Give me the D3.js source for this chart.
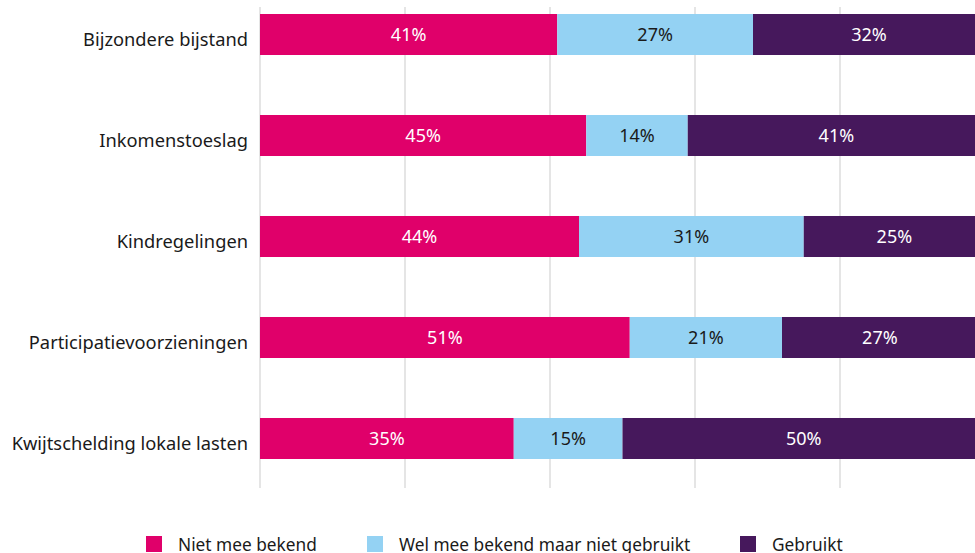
<!DOCTYPE html>
<html>
<head>
<meta charset="utf-8">
<script src="https://cdn.jsdelivr.net/npm/d3@7"></script>
<style>
  body { margin: 0; background: #fff; }
  svg { display: block; font-family: "Noto Sans", sans-serif; }
</style>
</head>
<body>
<div class="canvas"></div>
<script>
const categories = ['Bijzondere bijstand', 'Inkomenstoeslag', 'Kindregelingen', 'Participatievoorzieningen', 'Kwijtschelding lokale lasten'];
const seriesNames = ['Niet mee bekend', 'Wel mee bekend maar niet gebruikt', 'Gebruikt'];
const nietBekend = [41, 45, 44, 51, 35];
const welBekend = [27, 14, 31, 21, 15];
const gebruikt = [32, 41, 25, 27, 50];
const gridTicks = [0, 20, 40, 60, 80, 100];

const colors = ['#e0006a', '#94d2f3', '#46185c'];
const textColors = ['#fff', '#1a1a1a', '#fff'];

const dims = { width: 975, height: 553 };
const margin = { left: 260, top: 7, bottom: 65 };

const rows = categories.map((c, i) => ({
  name: c,
  [seriesNames[0]]: nietBekend[i],
  [seriesNames[1]]: welBekend[i],
  [seriesNames[2]]: gebruikt[i]
}));

const stacked = d3.stack().keys(seriesNames)(rows);

const svg = d3.select('.canvas')
  .append('svg')
  .attr('width', dims.width)
  .attr('height', dims.height);

// 100% lies just past the right edge, like the original
const x = d3.scaleLinear()
  .domain([0, 100])
  .range([margin.left, margin.left + 725]);

const y = d3.scaleBand()
  .domain(categories)
  .range([14, 459])
  .paddingInner(0.594)
  .paddingOuter(0);

// gridlines
svg.append('g')
  .selectAll('line')
  .data(gridTicks)
  .enter()
  .append('line')
    .attr('x1', d => x(d))
    .attr('x2', d => x(d))
    .attr('y1', margin.top)
    .attr('y2', dims.height - margin.bottom)
    .attr('stroke', '#dcdcdc')
    .attr('stroke-width', 1.5);

// bars
const layers = svg.append('g')
  .selectAll('g')
  .data(stacked)
  .enter()
  .append('g')
    .attr('fill', (d, i) => colors[i]);

layers.selectAll('rect')
  .data(d => d)
  .enter()
  .append('rect')
    .attr('x', d => x(d[0]))
    .attr('y', d => y(d.data.name))
    .attr('width', d => x(d[1]) - x(d[0]))
    .attr('height', y.bandwidth());

// value labels
stacked.forEach((layer, i) => {
  svg.append('g')
    .selectAll('text')
    .data(layer)
    .enter()
    .append('text')
      .attr('x', d => (x(d[0]) + x(d[1])) / 2)
      .attr('y', d => y(d.data.name) + y.bandwidth() / 2)
      .attr('dy', '0.36em')
      .attr('text-anchor', 'middle')
      .attr('font-size', 18)
      .attr('fill', textColors[i])
      .text(d => (d[1] - d[0]) + '%');
});

// category labels (sit a little below the bar centre in the original)
svg.append('g')
  .selectAll('text')
  .data(categories)
  .enter()
  .append('text')
    .attr('x', margin.left - 12)
    .attr('y', d => y(d) + y.bandwidth() / 2 + 11.5)
    .attr('text-anchor', 'end')
    .attr('font-size', 18.3)
    .attr('fill', '#1a1a1a')
    .text(d => d);

// legend
const legendX = [146, 367, 740];
const legend = svg.append('g')
  .selectAll('g')
  .data(seriesNames)
  .enter()
  .append('g')
    .attr('transform', (d, i) => `translate(${legendX[i]}, 536)`);

legend.append('rect')
  .attr('width', 16)
  .attr('height', 16)
  .attr('fill', (d, i) => colors[i]);

legend.append('text')
  .attr('x', 32)
  .attr('y', 9)
  .attr('dy', '0.36em')
  .attr('font-size', 17.3)
  .attr('fill', '#1a1a1a')
  .text(d => d);
</script>
</body>
</html>
